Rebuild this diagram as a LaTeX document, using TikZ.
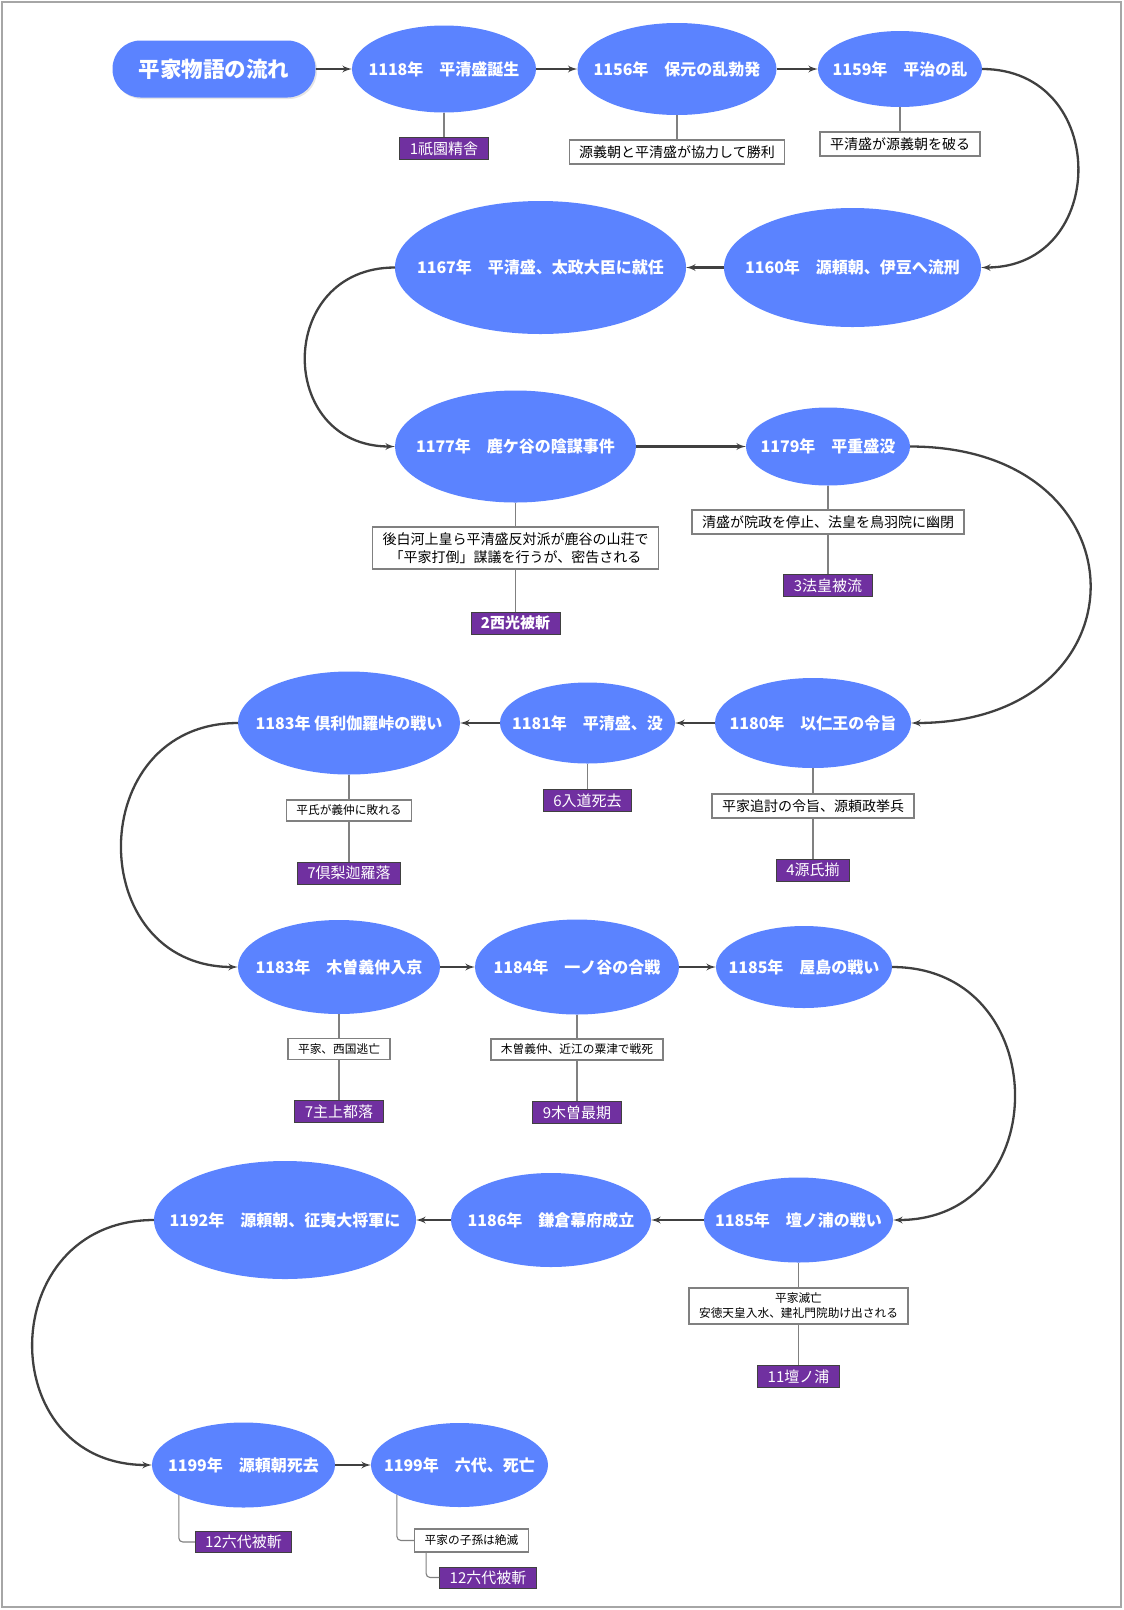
\documentclass[tikz,border=0pt]{standalone}
\usepackage{fontspec}
\setmainfont{Noto Sans CJK JP}
\usepackage{tikz}
\usetikzlibrary{shapes,arrows,positioning,shadows}
\definecolor{evblue}{RGB}{91,131,255}
\definecolor{scenepurple}{RGB}{112,48,160}
\definecolor{linegray}{RGB}{64,64,64}
\definecolor{notegray}{RGB}{128,128,128}
\definecolor{framegray}{RGB}{166,166,166}
\tikzstyle{headbox} = [rectangle, rounded corners=28pt, fill=evblue, text=white,
    font=\bfseries\fontsize{21.5}{24}\selectfont, minimum width=203pt, minimum height=57pt,
    drop shadow={shadow xshift=1.5pt, shadow yshift=-1.5pt, fill=black!20}]
\tikzstyle{event} = [ellipse, fill=evblue, text=white, inner sep=0pt, outer sep=0pt,
    font=\bfseries\fontsize{16}{19}\selectfont,
    execute at begin node={\hbox to 0pt\bgroup\hss}, execute at end node={\hss\egroup}]
\tikzstyle{note} = [rectangle, draw=notegray, fill=white, line width=1.2pt,
    font=\fontsize{14}{17.5}\selectfont, inner xsep=10pt, minimum height=24pt, align=center]
\tikzstyle{note2} = [note, font=\fontsize{11.7}{15}\selectfont, minimum height=21pt]
\tikzstyle{scene} = [rectangle, draw=linegray, fill=scenepurple, text=white, line width=0.8pt,
    font=\fontsize{15}{18}\selectfont, inner xsep=10pt, minimum height=22pt]
\tikzstyle{line} = [draw=linegray, line width=2.3pt, -latex']
\tikzstyle{line1} = [draw=notegray, line width=1.1pt]

\begin{document}
\begin{tikzpicture}[x=1pt, y=-1pt, node distance=230pt, auto]
    % frame
    \useasboundingbox (0,0) rectangle (1124,1610);
    \draw [framegray, line width=2pt] (2,2) rectangle (1121,1607);

    % Place nodes
    \node [headbox] (head) at (214,69) {平家物語の流れ};
    \node [event, right of=head, minimum width=184pt, minimum height=87pt] (y1118) {1118年　平清盛誕生};
    \node [event, right of=y1118, node distance=233pt, minimum width=199pt, minimum height=92pt] (y1156) {1156年　保元の乱勃発};
    \node [event, right of=y1156, node distance=223pt, minimum width=164pt, minimum height=76pt] (y1159) {1159年　平治の乱};
    \node [scene, below of=y1118, node distance=79.5pt] (s1118) {1祇園精舎};
    \node [note, below of=y1156, node distance=83pt] (n1156) {源義朝と平清盛が協力して勝利};
    \node [note, below of=y1159, node distance=75pt] (n1159) {平清盛が源義朝を破る};

    \node [event, below of=y1159, node distance=198.5pt, xshift=-47.5pt, minimum width=257pt, minimum height=119pt] (y1160) {1160年　源頼朝、伊豆へ流刑};
    \node [event, left of=y1160, node distance=312pt, minimum width=291pt, minimum height=133pt] (y1167) {1167年　平清盛、太政大臣に就任};

    \node [event, below of=y1167, node distance=179pt, xshift=-25pt, minimum width=241pt, minimum height=112pt] (y1177) {1177年　鹿ケ谷の陰謀事件};
    \node [event, right of=y1177, node distance=312.5pt, minimum width=164pt, minimum height=78pt] (y1179) {1179年　平重盛没};
    \node [note, below of=y1177, node distance=101.5pt, minimum height=42pt] (n1177) {後白河上皇ら平清盛反対派が鹿谷の山荘で\\「平家打倒」謀議を行うが、密告される};
    \node [scene, below of=n1177, node distance=75pt, font=\bfseries\fontsize{15}{18}\selectfont] (s1177) {2西光被斬};
    \node [note, below of=y1179, node distance=75.5pt] (n1179) {清盛が院政を停止、法皇を鳥羽院に幽閉};
    \node [scene, below of=n1179, node distance=63.5pt] (s1179) {3法皇被流};

    \node [event, below of=y1179, node distance=276.5pt, xshift=-15pt, minimum width=196pt, minimum height=90pt] (y1180) {1180年　以仁王の令旨};
    \node [event, left of=y1180, node distance=225.5pt, minimum width=175pt, minimum height=81pt] (y1181) {1181年　平清盛、没};
    \node [event, left of=y1181, node distance=238.5pt, minimum width=222pt, minimum height=103pt] (y1183a) {1183年 倶利伽羅峠の戦い};
    \node [note, below of=y1180, node distance=83pt] (n1180) {平家追討の令旨、源頼政挙兵};
    \node [scene, below of=n1180, node distance=64pt] (s1180) {4源氏揃};
    \node [scene, below of=y1181, node distance=77.5pt] (s1181) {6入道死去};
    \node [note2, below of=y1183a, node distance=87.5pt] (n1183a) {平氏が義仲に敗れる};
    \node [scene, below of=n1183a, node distance=62.5pt] (s1183a) {7倶梨迦羅落};

    \node [event, below of=y1183a, node distance=244pt, xshift=-10pt, minimum width=202pt, minimum height=94pt] (y1183b) {1183年　木曽義仲入京};
    \node [event, right of=y1183b, node distance=238pt, minimum width=204pt, minimum height=95pt] (y1184) {1184年　一ノ谷の合戦};
    \node [event, right of=y1184, node distance=227pt, minimum width=176pt, minimum height=82pt] (y1185a) {1185年　屋島の戦い};
    \node [note2, below of=y1183b, node distance=82pt] (n1183b) {平家、西国逃亡};
    \node [scene, below of=n1183b, node distance=62.5pt] (s1183b) {7主上都落};
    \node [note2, below of=y1184, node distance=82.5pt] (n1184) {木曽義仲、近江の粟津で戦死};
    \node [scene, below of=n1184, node distance=63pt] (s1184) {9木曽最期};

    \node [event, below of=y1185a, node distance=253pt, xshift=-5.5pt, minimum width=189pt, minimum height=85pt] (y1185b) {1185年　壇ノ浦の戦い};
    \node [event, left of=y1185b, node distance=247.5pt, minimum width=200pt, minimum height=94pt] (y1186) {1186年　鎌倉幕府成立};
    \node [event, left of=y1186, node distance=266pt, minimum width=262pt, minimum height=118pt] (y1192) {1192年　源頼朝、征夷大将軍に};
    \node [note2, below of=y1185b, node distance=86pt, minimum height=36pt] (n1185b) {平家滅亡\\安徳天皇入水、建礼門院助け出される};
    \node [scene, below of=n1185b, node distance=70.5pt] (s1185b) {11壇ノ浦};

    \node [event, below of=y1192, node distance=245pt, xshift=-41.5pt, minimum width=183pt, minimum height=85pt] (y1199a) {1199年　源頼朝死去};
    \node [event, right of=y1199a, node distance=216pt, minimum width=177pt, minimum height=84pt] (y1199b) {1199年　六代、死亡};
    \node [scene, below of=y1199a, node distance=77pt, minimum height=20pt] (s1199a) {12六代被斬};
    \node [note2, below of=y1199b, node distance=75.5pt, xshift=12pt, minimum height=23pt] (n1199b) {平家の子孫は絶滅};
    \node [scene, below of=n1199b, node distance=37pt, xshift=16.5pt, minimum height=21pt] (s1199b) {12六代被斬};

    % Draw edges
    \path [line] (head) -- (y1118);
    \path [line] (y1118) -- (y1156);
    \path [line] (y1156) -- (y1159);
    \path [line] (y1159.east) to [out=0, in=0, looseness=1.65] (y1160.east);
    \path [line] (y1160) -- (y1167);
    \path [line] (y1167.west) to [out=180, in=180, looseness=1.71] (y1177.west);
    \path [line] (y1177) -- (y1179);
    \path [line] (y1179.east) to [out=0, in=0, looseness=2.21] (y1180.east);
    \path [line] (y1180) -- (y1181);
    \path [line] (y1181) -- (y1183a);
    \path [line] (y1183a.west) to [out=180, in=180, looseness=1.63] (y1183b.west);
    \path [line] (y1183b) -- (y1184);
    \path [line] (y1184) -- (y1185a);
    \path [line] (y1185a.east) to [out=0, in=0, looseness=1.64] (y1185b.east);
    \path [line] (y1185b) -- (y1186);
    \path [line] (y1186) -- (y1192);
    \path [line] (y1192.west) to [out=180, in=180, looseness=1.67] (y1199a.west);
    \path [line] (y1199a) -- (y1199b);

    % sub items
    \path [line1] (y1118) -- (s1118);
    \path [line1] (y1156) -- (n1156);
    \path [line1] (y1159) -- (n1159);
    \path [line1] (y1177) -- (n1177);
    \path [line1] (n1177) -- (s1177);
    \path [line1] (y1179) -- (n1179);
    \path [line1] (n1179) -- (s1179);
    \path [line1] (y1180) -- (n1180);
    \path [line1] (n1180) -- (s1180);
    \path [line1] (y1181) -- (s1181);
    \path [line1] (y1183a) -- (n1183a);
    \path [line1] (n1183a) -- (s1183a);
    \path [line1] (y1183b) -- (n1183b);
    \path [line1] (n1183b) -- (s1183b);
    \path [line1] (y1184) -- (n1184);
    \path [line1] (n1184) -- (s1184);
    \path [line1] (y1185b) -- (n1185b);
    \path [line1] (n1185b) -- (s1185b);
    \path [line1, rounded corners=4pt] (y1199a.south west) |- (s1199a.west);
    \path [line1, rounded corners=4pt] (y1199b.south west) |- (n1199b.west);
    \path [line1, rounded corners=4pt] ([xshift=12pt]n1199b.south west) |- (s1199b.west);
\end{tikzpicture}
\end{document}
